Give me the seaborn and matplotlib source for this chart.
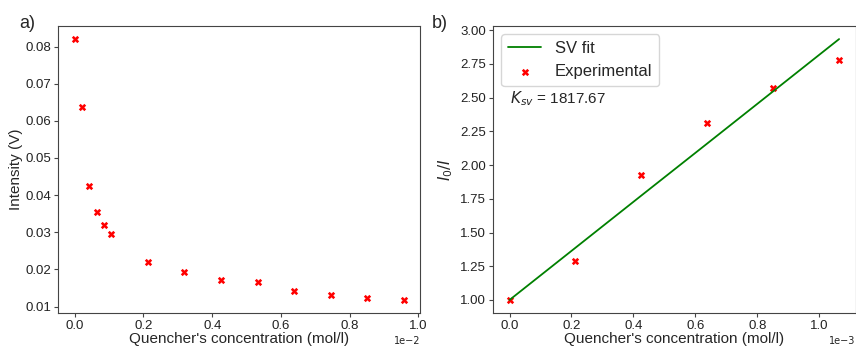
import numpy as np
import matplotlib
matplotlib.use('Agg')
import matplotlib.pyplot as plt
import seaborn as sns

# quencher concentration (mol/l) and measured intensity (V)
conc = [0.0, 0.0213, 0.0426, 0.0638, 0.0851, 0.1064, 0.2128, 0.3191,
        0.4255, 0.5319, 0.6383, 0.7447, 0.8511, 0.9574]  # x 1e-2
conc = [c * 1e-2 for c in conc]
intensity = [0.0820, 0.0636, 0.0425, 0.0355, 0.0320, 0.0295, 0.0220,
             0.0194, 0.0172, 0.0166, 0.0143, 0.0131, 0.0123, 0.0118]

# Stern-Volmer panel
sv_conc = [0.0, 0.2128, 0.4255, 0.6383, 0.8511, 1.0638]  # x 1e-3
sv_conc = [c * 1e-3 for c in sv_conc]
sv_ratio = [1.00, 1.289, 1.930, 2.312, 2.569, 2.776]
sv_fit = [1.00, 1.387, 1.774, 2.160, 2.547, 2.934]
ksv = 1817.67

sns.set_style('ticks')
plt.rcParams['font.family'] = ['Liberation Sans', 'DejaVu Sans']
plt.rcParams['axes.edgecolor'] = '#444444'
plt.rcParams['xtick.color'] = '#444444'
plt.rcParams['ytick.color'] = '#444444'
plt.rcParams['xtick.labelcolor'] = '#222222'
plt.rcParams['ytick.labelcolor'] = '#222222'
plt.rcParams['xtick.labelsize'] = 9.5
plt.rcParams['ytick.labelsize'] = 9.5
plt.rcParams['xtick.major.size'] = 3
plt.rcParams['ytick.major.size'] = 3
plt.rcParams['xtick.major.pad'] = 2
plt.rcParams['ytick.major.pad'] = 2
plt.rcParams['axes.labelsize'] = 11

fig = plt.figure(figsize=(8.56, 3.47), dpi=100)
ax1 = fig.add_axes([0.068, 0.098, 0.423, 0.827])
ax2 = fig.add_axes([0.576, 0.098, 0.4235, 0.827])

sns.scatterplot(x=conc, y=intensity, ax=ax1, marker='X', color='red',
                s=28, linewidth=0)
ax1.set_xlabel("Quencher's concentration (mol/l)", labelpad=0)
ax1.set_ylabel('Intensity (V)', labelpad=2)
ax1.ticklabel_format(axis='x', style='sci', scilimits=(0, 0))
ax1.xaxis.get_offset_text().set_fontsize(7)
ax1.xaxis.get_offset_text().set_family('DejaVu Sans')
ax1.set_xticks(np.arange(0, 1.01, 0.2) * 1e-2)

sns.lineplot(x=sv_conc, y=sv_fit, ax=ax2, color='green', linewidth=1.3,
             label='SV fit')
sns.scatterplot(x=sv_conc, y=sv_ratio, ax=ax2, marker='X', color='red',
                s=28, linewidth=0, label='Experimental')
ax2.set_xlabel("Quencher's concentration (mol/l)", labelpad=0)
ax2.set_ylabel('$I_0/I$', labelpad=4)
ax2.ticklabel_format(axis='x', style='sci', scilimits=(0, 0))
ax2.xaxis.get_offset_text().set_fontsize(7)
ax2.xaxis.get_offset_text().set_family('DejaVu Sans')
ax2.set_yticks(np.arange(1.0, 3.01, 0.25))
ax2.yaxis.set_major_formatter(matplotlib.ticker.FormatStrFormatter('%.2f'))
ax2.legend(loc='upper left', fontsize=12, frameon=True)
ax2.text(0.0, 2.49, '$K_{sv}$ = %.2f' % ksv, fontsize=11, va='center')

fig.text(0.022, 0.92, 'a)', fontsize=13)
fig.text(0.505, 0.92, 'b)', fontsize=13)

plt.savefig('out.png', dpi=100)
